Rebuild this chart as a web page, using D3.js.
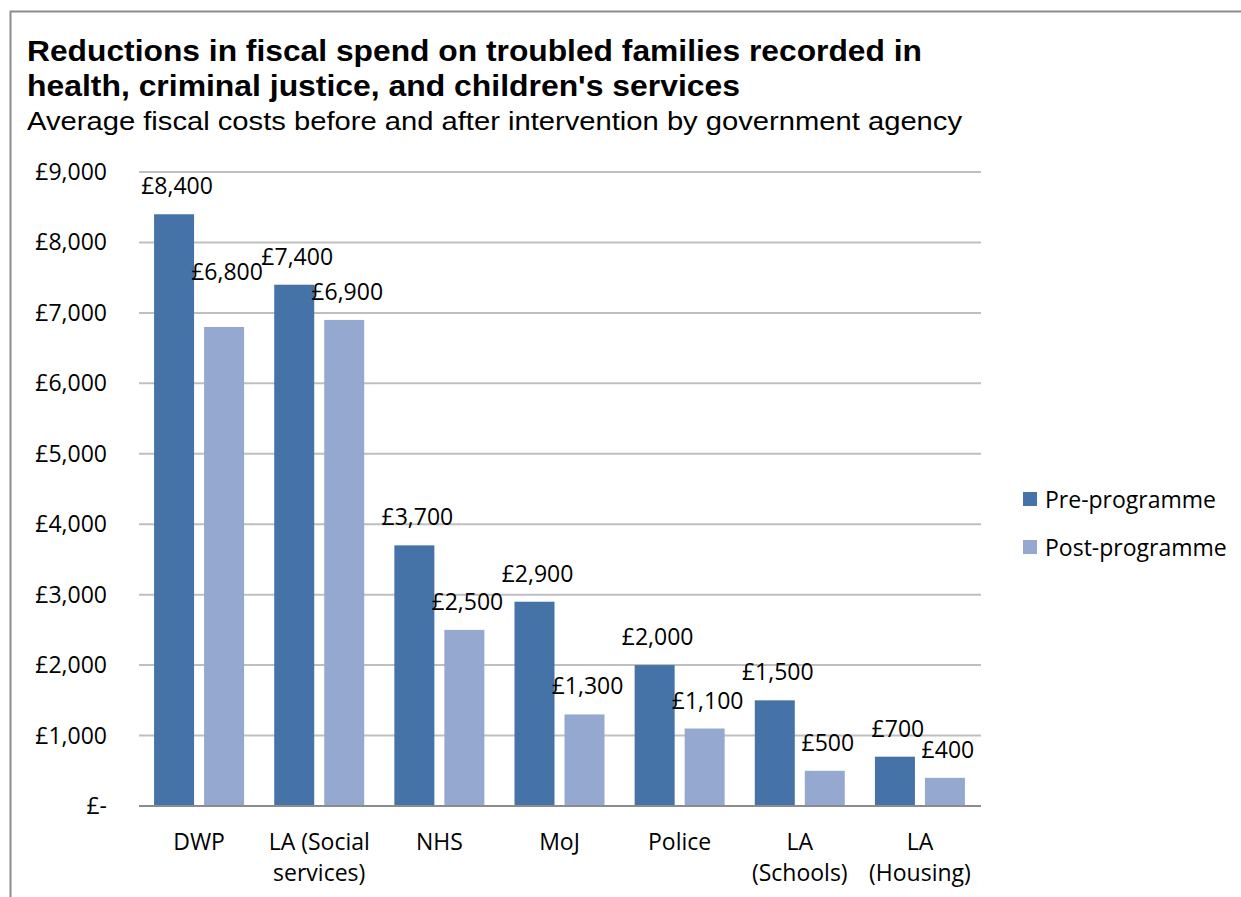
<!DOCTYPE html>
<html>
<head>
<meta charset="utf-8">
<script src="https://cdn.jsdelivr.net/npm/d3@7"></script>
<style>
body { margin:0; background:#fff; }
</style>
</head>
<body>
<script>
//---------------------------------- datos
var agencias = [["DWP"], ["LA (Social", "services)"], ["NHS"], ["MoJ"], ["Police"], ["LA", "(Schools)"], ["LA", "(Housing)"]];
var prePrograma = [8400, 7400, 3700, 2900, 2000, 1500, 700];
var postPrograma = [6800, 6900, 2500, 1300, 1100, 500, 400];
var series = ["Pre-programme", "Post-programme"];
var colores = ["#4572a7", "#95a9d0"];
var ticksY = [0, 1000, 2000, 3000, 4000, 5000, 6000, 7000, 8000, 9000];
//----------------------------------

var ancho = 1241, alto = 897;
var fuente = "'Open Sans', 'Noto Sans', sans-serif";
var tam = "23px";

var svg = d3.select("body").append("svg")
	.attr("width", ancho)
	.attr("height", alto);

// marco
svg.append("path")
	.attr("d", "M10.5," + alto + "V11.5H" + ancho)
	.attr("fill", "none")
	.attr("stroke", "#8c8c8c")
	.attr("stroke-width", 2);

// titulos
var titulo = svg.append("text")
	.style("font-family", "'Liberation Sans', Arial, sans-serif")
	.style("font-weight", "bold")
	.style("font-size", "30px")
	.attr("fill", "#000");
titulo.append("tspan").attr("x", 27).attr("y", 61)
	.attr("textLength", 895).attr("lengthAdjust", "spacingAndGlyphs")
	.text("Reductions in fiscal spend on troubled families recorded in");
titulo.append("tspan").attr("x", 27).attr("y", 96)
	.attr("textLength", 713).attr("lengthAdjust", "spacingAndGlyphs")
	.text("health, criminal justice, and children's services");

svg.append("text")
	.attr("x", 27).attr("y", 130)
	.attr("textLength", 935).attr("lengthAdjust", "spacingAndGlyphs")
	.style("font-family", "'Liberation Sans', Arial, sans-serif")
	.style("font-size", "26px")
	.text("Average fiscal costs before and after intervention by government agency");

// escalas
var x0 = d3.scaleBand().domain(d3.range(agencias.length)).range([139, 980]).paddingInner(0).paddingOuter(0);
var x1 = d3.scaleBand().domain(series).range([x0.bandwidth() / 2 - 45, x0.bandwidth() / 2 + 45]).paddingInner(0.2);
var y = d3.scaleLinear().domain([0, 9000]).range([806, 172]);

// rejilla
svg.append("g").selectAll("line")
	.data(ticksY.slice(1))
	.enter().append("line")
	.attr("x1", 139).attr("x2", 981)
	.attr("y1", function (d) { return y(d); })
	.attr("y2", function (d) { return y(d); })
	.attr("stroke", "#bfbfbf")
	.attr("stroke-width", 2);

// etiquetas eje y
svg.append("g").selectAll("text")
	.data(ticksY)
	.enter().append("text")
	.attr("x", 107)
	.attr("y", function (d) { return y(d) + 8; })
	.attr("text-anchor", "end")
	.style("font-family", fuente)
	.style("font-size", tam)
	.text(function (d) { return d === 0 ? "£-" : "£" + d3.format(",")(d); });

// barras
var datos = agencias.map(function (a, i) {
	return { i: i, valores: [prePrograma[i], postPrograma[i]] };
});
var grupos = svg.append("g").selectAll("g")
	.data(datos)
	.enter().append("g")
	.attr("transform", function (d) { return "translate(" + x0(d.i) + ",0)"; });

grupos.selectAll("rect")
	.data(function (d) { return d.valores.map(function (v, j) { return { s: series[j], v: v, j: j, i: d.i }; }); })
	.enter().append("rect")
	.attr("x", function (d) { return x1(d.s); })
	.attr("width", x1.bandwidth())
	.attr("y", function (d) { return y(d.v); })
	.attr("height", function (d) { return y(0) - y(d.v); })
	.attr("fill", function (d) { return colores[d.j]; });

grupos.selectAll("text.valor")
	.data(function (d) { return d.valores.map(function (v, j) { return { s: series[j], v: v, j: j, i: d.i }; }); })
	.enter().append("text")
	.attr("class", "valor")
	.attr("x", function (d) { return x1(d.s) + x1.bandwidth() / 2 + 3; })
	.attr("y", function (d) {
		// la etiqueta de DWP post esta levantada en el original
		var extra = (d.i === 0 && d.j === 1) ? 27 : 0;
		return y(d.v) - 20 - extra;
	})
	.attr("text-anchor", "middle")
	.style("font-family", fuente)
	.style("font-size", tam)
	.text(function (d) { return "£" + d3.format(",")(d.v); });

// eje x
svg.append("line")
	.attr("x1", 139).attr("x2", 981)
	.attr("y1", y(0)).attr("y2", y(0))
	.attr("stroke", "#8c8c8c")
	.attr("stroke-width", 2);

var etiquetas = svg.append("g").selectAll("text")
	.data(agencias)
	.enter().append("text")
	.attr("text-anchor", "middle")
	.style("font-family", fuente)
	.style("font-size", tam);
etiquetas.each(function (d, i) {
	var t = d3.select(this);
	d.forEach(function (linea, k) {
		t.append("tspan")
			.attr("x", x0(i) + x0.bandwidth() / 2)
			.attr("y", 850 + k * 31)
			.text(linea);
	});
});

// leyenda
var leyenda = svg.append("g").selectAll("g")
	.data(series)
	.enter().append("g")
	.attr("transform", function (d, i) { return "translate(1023," + (492 + i * 48) + ")"; });
leyenda.append("rect")
	.attr("width", 14).attr("height", 14)
	.attr("fill", function (d, i) { return colores[i]; });
leyenda.append("text")
	.attr("x", 22).attr("y", 16)
	.style("font-family", fuente)
	.style("font-size", tam)
	.text(function (d) { return d; });
</script>
</body>
</html>
